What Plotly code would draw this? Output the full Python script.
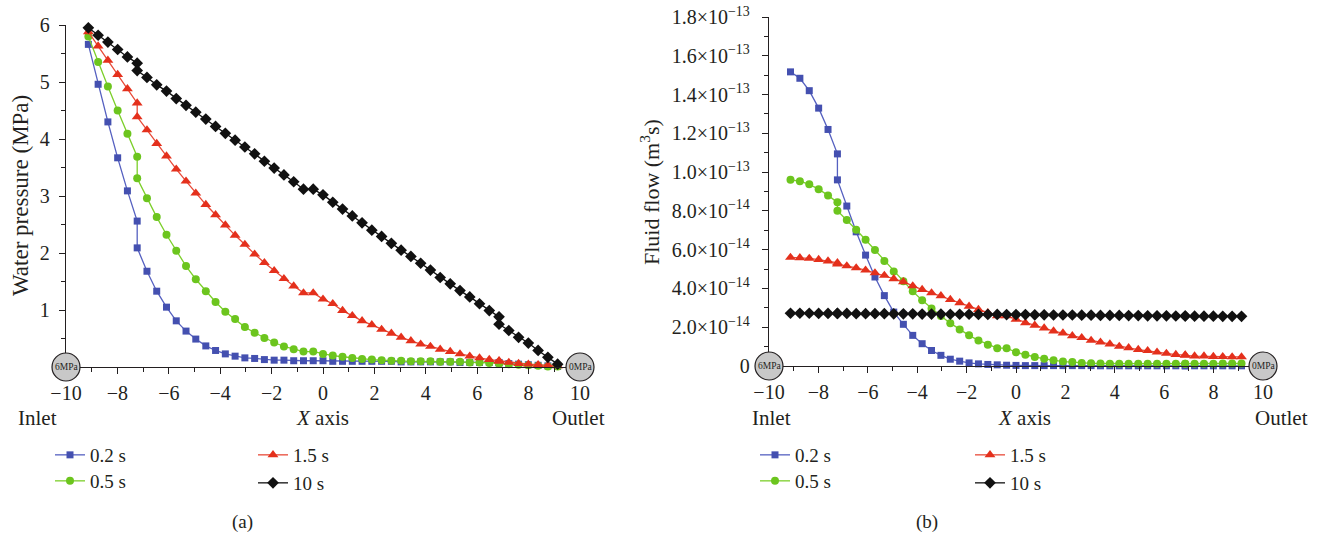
import plotly.graph_objects as go

# ---------------- data ----------------
X_POS = [-9.13, -8.75, -8.37, -7.99, -7.61, -7.23, -7.23, -6.85, -6.47, -6.09,
         -5.71, -5.33, -4.95, -4.56, -4.18, -3.80, -3.42, -3.04, -2.66, -2.28,
         -1.90, -1.52, -1.14, -0.76, -0.38, 0.00, 0.38, 0.76, 1.14, 1.52,
         1.90, 2.28, 2.66, 3.04, 3.42, 3.80, 4.18, 4.56, 4.95, 5.33,
         5.71, 6.09, 6.47, 6.85, 6.85, 7.23, 7.61, 7.99, 8.37, 8.75, 9.13]

SERIES_NAMES = ["0.2 s", "0.5 s", "1.5 s", "10 s"]

# (a) water pressure, MPa
P_02 = [5.66, 4.96, 4.30, 3.67, 3.09, 2.56, 2.09, 1.68, 1.33, 1.05,
        0.81, 0.63, 0.49, 0.37, 0.29, 0.23, 0.19, 0.16, 0.15, 0.13,
        0.12, 0.12, 0.11, 0.11, 0.11, 0.11, 0.10, 0.10, 0.10, 0.10,
        0.10, 0.10, 0.10, 0.09, 0.09, 0.09, 0.09, 0.09, 0.09, 0.08,
        0.08, 0.08, 0.08, 0.08, 0.07, 0.06, 0.05, 0.04, 0.03, 0.02, 0.01]
P_05 = [5.80, 5.35, 4.92, 4.50, 4.09, 3.69, 3.31, 2.96, 2.63, 2.32,
        2.04, 1.77, 1.54, 1.33, 1.14, 0.97, 0.84, 0.70, 0.60, 0.51,
        0.43, 0.36, 0.31, 0.27, 0.27, 0.23, 0.20, 0.18, 0.16, 0.14,
        0.13, 0.12, 0.11, 0.11, 0.10, 0.10, 0.10, 0.09, 0.09, 0.09,
        0.08, 0.08, 0.07, 0.07, 0.06, 0.05, 0.04, 0.03, 0.02, 0.01, 0.01]
P_15 = [5.88, 5.63, 5.38, 5.13, 4.88, 4.63, 4.39, 4.16, 3.92, 3.70,
        3.47, 3.26, 3.05, 2.85, 2.67, 2.49, 2.31, 2.15, 1.98, 1.83,
        1.69, 1.55, 1.42, 1.30, 1.30, 1.19, 1.11, 0.99, 0.90, 0.81,
        0.74, 0.66, 0.59, 0.52, 0.46, 0.40, 0.36, 0.31, 0.27, 0.23,
        0.19, 0.16, 0.13, 0.11, 0.10, 0.08, 0.06, 0.05, 0.04, 0.03, 0.02]
P_10 = [5.95, 5.82, 5.70, 5.57, 5.44, 5.33, 5.20, 5.08, 4.95, 4.84,
        4.71, 4.59, 4.47, 4.35, 4.22, 4.10, 3.98, 3.86, 3.74, 3.61,
        3.49, 3.37, 3.25, 3.12, 3.12, 3.02, 2.89, 2.77, 2.65, 2.53,
        2.40, 2.29, 2.17, 2.05, 1.94, 1.82, 1.70, 1.57, 1.46, 1.34,
        1.23, 1.11, 0.99, 0.88, 0.75, 0.64, 0.52, 0.42, 0.29, 0.17, 0.05]

# (b) fluid flow, in units of 1e-14 m^3/s
F_UNIT = 1e-14
F_02 = [15.17, 14.84, 14.20, 13.30, 12.20, 10.94, 9.60, 8.25, 6.92, 5.72,
        4.59, 3.63, 2.78, 2.15, 1.58, 1.15, 0.80, 0.55, 0.35, 0.25,
        0.16, 0.11, 0.08, 0.06, 0.04, 0.03, 0.02, 0.02, 0.02, 0.02,
        0.02, 0.02, 0.02, 0.02, 0.01, 0.01, 0.01, 0.01, 0.01, 0.01,
        0.01, 0.01, 0.01, 0.01, 0.01, 0.01, 0.01, 0.01, 0.01, 0.01, 0.01]
F_05 = [9.60, 9.53, 9.37, 9.12, 8.80, 8.44, 8.01, 7.53, 7.03, 6.51,
        5.98, 5.42, 4.87, 4.37, 3.85, 3.39, 2.96, 2.58, 2.21, 1.88,
        1.58, 1.32, 1.10, 0.92, 0.92, 0.71, 0.58, 0.46, 0.37, 0.30,
        0.23, 0.20, 0.16, 0.14, 0.13, 0.12, 0.12, 0.12, 0.12, 0.12,
        0.12, 0.12, 0.12, 0.12, 0.12, 0.12, 0.12, 0.12, 0.13, 0.13, 0.13]
F_15 = [5.60, 5.58, 5.55, 5.49, 5.41, 5.32, 5.25, 5.16, 5.06, 4.94,
        4.80, 4.67, 4.50, 4.34, 4.13, 3.94, 3.77, 3.62, 3.43, 3.26,
        3.08, 2.91, 2.75, 2.58, 2.58, 2.41, 2.23, 2.10, 1.96, 1.80,
        1.70, 1.56, 1.46, 1.32, 1.23, 1.13, 1.01, 0.94, 0.85, 0.79,
        0.71, 0.65, 0.59, 0.57, 0.55, 0.51, 0.51, 0.49, 0.48, 0.47, 0.47]
F_10 = [2.72, 2.72, 2.72, 2.71, 2.71, 2.71, 2.71, 2.71, 2.70, 2.70,
        2.70, 2.70, 2.69, 2.69, 2.69, 2.68, 2.68, 2.68, 2.67, 2.67,
        2.67, 2.66, 2.66, 2.66, 2.65, 2.65, 2.65, 2.64, 2.64, 2.63,
        2.63, 2.63, 2.62, 2.62, 2.61, 2.61, 2.61, 2.60, 2.60, 2.59,
        2.59, 2.59, 2.58, 2.58, 2.58, 2.57, 2.57, 2.57, 2.56, 2.56, 2.56]

X_TICKS = [-10, -8, -6, -4, -2, 0, 2, 4, 6, 8, 10]
X_MINOR = [-9, -7, -5, -3, -1, 1, 3, 5, 7, 9]
P_TICKS = [1, 2, 3, 4, 5, 6]
P_MINOR = [0.5, 1.5, 2.5, 3.5, 4.5, 5.5]
F_TICKS = [0, 2, 4, 6, 8, 10, 12, 14, 16, 18]
F_MINOR = [1, 3, 5, 7, 9, 11, 13, 15, 17]
F_TICKTEXT = ["0",
              "2.0×10<sup>−14</sup>", "4.0×10<sup>−14</sup>", "6.0×10<sup>−14</sup>",
              "8.0×10<sup>−14</sup>", "1.0×10<sup>−13</sup>", "1.2×10<sup>−13</sup>",
              "1.4×10<sup>−13</sup>", "1.6×10<sup>−13</sup>", "1.8×10<sup>−13</sup>"]

# ---------------- style ----------------
W, H = 1322, 537
FONT = "Liberation Serif"
INK = "#231f20"
STYLES = [
    dict(color="#4450b0", symbol="square", size=7, lcolor="#5560c0"),
    dict(color="#6cc51e", symbol="circle", size=8, lcolor="#7ccf2a"),
    dict(color="#e4301c", symbol="triangle-up", size=9.5, lcolor="#e84a38"),
    dict(color="#111111", symbol="diamond", size=9, lcolor="#111111"),
]
# legend placement (pixel position of the legend line start, row centre)
LEG_POS_A = [(55, 455), (55, 481), (258, 455), (258, 483)]
LEG_POS_B = [(760, 455), (760, 481), (975, 455), (975, 483)]


def px(x):
    return x / W


def py(y):
    return 1 - y / H


fig = go.Figure()

pres = [P_02, P_05, P_15, P_10]
flow = [F_02, F_05, F_15, F_10]
legend_layouts = {}
for i, name in enumerate(SERIES_NAMES):
    st = STYLES[i]
    common = dict(mode="lines+markers", name=name, cliponaxis=False, showlegend=True,
                  line=dict(color=st["lcolor"], width=1.3),
                  marker=dict(color=st["color"], symbol=st["symbol"], size=st["size"]))
    la = "legend" if i == 0 else f"legend{i + 1}"
    lb = f"legend{i + 5}"
    fig.add_trace(go.Scatter(x=X_POS, y=pres[i], xaxis="x", yaxis="y",
                             legend=la, **common))
    fig.add_trace(go.Scatter(x=X_POS, y=[v * F_UNIT for v in flow[i]],
                             xaxis="x2", yaxis="y2", legend=lb, **common))
    for key, (lx, ly) in [(la, LEG_POS_A[i]), (lb, LEG_POS_B[i])]:
        legend_layouts[key] = dict(x=px(lx - 5), y=py(ly), xanchor="left", yanchor="middle",
                                   font=dict(family=FONT, size=19, color=INK),
                                   bgcolor="rgba(0,0,0,0)", borderwidth=0)

tickfont = dict(family=FONT, size=20, color=INK)
axis_common = dict(showline=True, linecolor=INK, linewidth=1.3, ticks="outside",
                   ticklen=6, tickwidth=1.3, tickcolor=INK, showgrid=False,
                   zeroline=False, tickfont=tickfont, tickmode="array", automargin=False)


def xaxis(dom, anchor):
    return dict(domain=dom, anchor=anchor, range=[-10, 10], tickvals=X_TICKS,
                minor=dict(tickmode="array", tickvals=X_MINOR, ticks="outside",
                           ticklen=3.5, tickwidth=1.2, tickcolor=INK, showgrid=False),
                ticklabelstandoff=2, **axis_common)


fig.update_layout(
    width=W, height=H, margin=dict(l=0, r=0, t=0, b=0, autoexpand=False),
    showlegend=True,
    paper_bgcolor="white", plot_bgcolor="white",
    font=dict(family=FONT, color=INK),
    xaxis=xaxis([px(66), px(580)], "y"),
    xaxis2=xaxis([px(769), px(1263)], "y2"),
    yaxis=dict(domain=[py(367), py(25)], anchor="x", range=[0, 6], tickvals=P_TICKS,
               minor=dict(tickmode="array", tickvals=P_MINOR, ticks="outside",
                          ticklen=3.5, tickwidth=1.2, tickcolor=INK, showgrid=False),
               ticklabelstandoff=5, **axis_common),
    yaxis2=dict(domain=[py(366), py(17)], anchor="x2",
                range=[0, F_TICKS[-1] * F_UNIT],
                tickvals=[v * F_UNIT for v in F_TICKS], ticktext=F_TICKTEXT,
                minor=dict(tickmode="array", tickvals=[v * F_UNIT for v in F_MINOR],
                           ticks="outside", ticklen=3.5, tickwidth=1.2, tickcolor=INK,
                           showgrid=False),
                ticklabelstandoff=8, **axis_common),
    **legend_layouts,
)

# inlet / outlet pressure markers
for cx, label in [(66, "6MPa"), (580, "0MPa"), (769, "6MPa"), (1263, "0MPa")]:
    cy = 367 if cx < 660 else 366
    fig.add_shape(type="circle", xref="paper", yref="paper",
                  xsizemode="pixel", ysizemode="pixel",
                  xanchor=px(cx), yanchor=py(cy), x0=-14, x1=14, y0=-14, y1=14,
                  fillcolor="#c8c8c8", line=dict(color=INK, width=1.2), layer="above")
    fig.add_annotation(x=px(cx), y=py(cy), xref="paper", yref="paper",
                       xanchor="center", yanchor="middle",
                       text=label, showarrow=False,
                       font=dict(family=FONT, size=9.5, color=INK))

labels = [
    (37, 418, "Inlet", 21), (322, 418, "<i>X</i> axis", 21), (578, 418, "Outlet", 21),
    (771, 418, "Inlet", 21), (1024, 418, "<i>X</i> axis", 21), (1281, 418, "Outlet", 21),
    (242, 522, "(a)", 19), (927, 522, "(b)", 19),
]
for x, y, t, s in labels:
    fig.add_annotation(x=px(x), y=py(y), xref="paper", yref="paper", text=t,
                       xanchor="center", yanchor="middle",
                       showarrow=False, font=dict(family=FONT, size=s, color=INK))

fig.add_annotation(x=px(20), y=py(196), xref="paper", yref="paper",
                   xanchor="center", yanchor="middle",
                   text="Water pressure (MPa)", textangle=-90, showarrow=False,
                   font=dict(family=FONT, size=23, color=INK))
fig.add_annotation(x=px(650), y=py(192), xref="paper", yref="paper",
                   xanchor="center", yanchor="middle",
                   text="Fluid flow (m<sup>3</sup>s)", textangle=-90, showarrow=False,
                   font=dict(family=FONT, size=22, color=INK))

fig.write_html("out.html", config={"displayModeBar": False},
               post_script="document.body.style.margin='0px';"
                           "document.body.style.padding='0px';")
